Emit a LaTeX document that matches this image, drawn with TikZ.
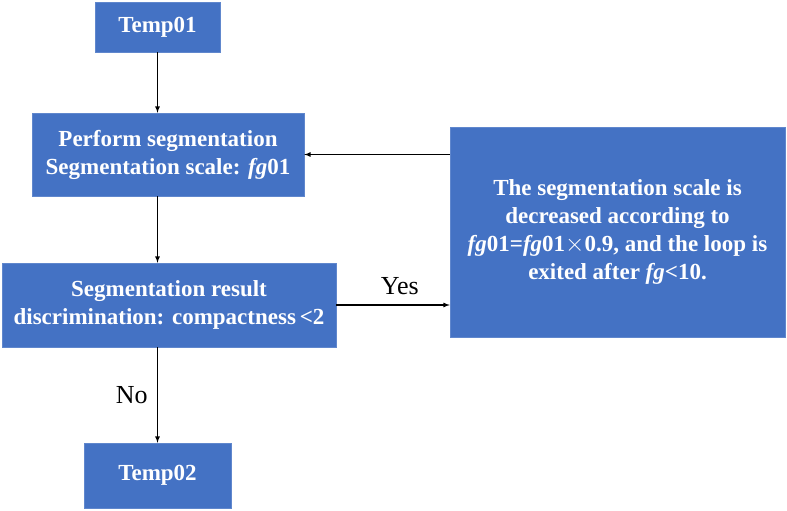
\documentclass[tikz,border=0pt]{standalone}
\usepackage{fontspec}
\setmainfont{Liberation Serif}
\usetikzlibrary{calc}
\definecolor{boxblue}{HTML}{4472C4}

\tikzset{
	blockbox/.style={draw=boxblue!85!white, fill=boxblue, text=white, font=\fontsize{23}{28}\selectfont\bfseries, align=center, inner sep=0pt},
	flow/.style={->, >=latex, line width=1.2pt},
	answer/.style={font=\fontsize{26}{30}\selectfont}
}

\begin{document}
\begin{tikzpicture}[x=1pt, y=-1pt]

		\useasboundingbox (0,0) rectangle (787,511);

		% the blocks
		\node[blockbox, minimum width=125pt, minimum height=50pt] (temp01) at (157.5,27) {Temp01};
		\node[blockbox, minimum width=272pt, minimum height=83pt] (perform) at (168,154.5) {Perform segmentation\\Segmentation scale: \textit{fg}01};
		\node[blockbox, minimum width=334pt, minimum height=84pt] (judge) at (169,305) {Segmentation result\\discrimination: compactness\,<2};
		\node[blockbox, minimum width=147pt, minimum height=65pt] (temp02) at (157.5,475.5) {Temp02};
		\node[blockbox, minimum width=335pt, minimum height=210pt] (shrink) at (617.5,232) {The segmentation scale is\\decreased according to\\\textit{fg}01=\textit{fg}01$\times$0.9, and the loop is\\exited after \textit{fg}<10.};

		% the arrows
		\draw[flow] (temp01.south) -- (temp01.south |- perform.north);
		\draw[flow] (temp01.south |- perform.south) -- (temp01.south |- judge.north);
		\draw[flow] (temp01.south |- judge.south) -- (temp01.south |- temp02.north)
			node[answer, pos=0.5, left=6pt] (no) {No};
		\draw[flow] (judge.east) -- (judge.east -| shrink.west)
			node[answer, pos=0.56, above=6pt] (yes) {Yes};
		\draw[flow] (shrink.west |- perform.east) -- (perform.east);

\end{tikzpicture}
\end{document}
